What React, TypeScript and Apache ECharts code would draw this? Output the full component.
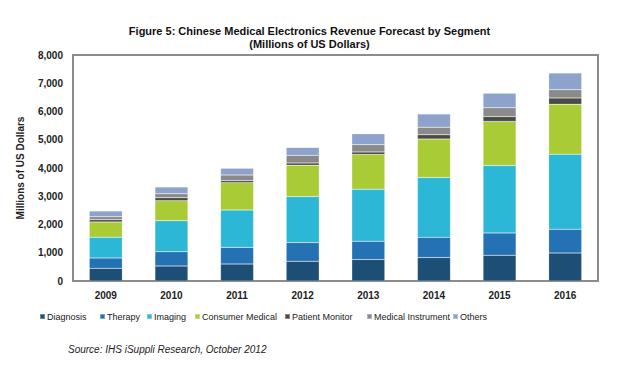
import React, { useEffect, useRef } from "react";
import * as echarts from "echarts";

const years = ["2009", "2010", "2011", "2012", "2013", "2014", "2015", "2016"];
const diagnosis = [450, 530, 600, 700, 760, 830, 910, 990];
const therapy = [365, 505, 590, 660, 650, 715, 790, 840];
const imaging = [735, 1100, 1320, 1630, 1840, 2120, 2390, 2660];
const consumerMedical = [540, 705, 970, 1110, 1230, 1360, 1560, 1770];
const patientMonitor = [80, 110, 70, 80, 90, 150, 170, 220];
const medicalInstrument = [105, 140, 200, 270, 260, 270, 310, 290];
const others = [205, 240, 240, 280, 380, 470, 520, 590];
const yTicks = [0, 1000, 2000, 3000, 4000, 5000, 6000, 7000, 8000];

const seriesDefs = [
  { name: "Diagnosis", data: diagnosis, color: "#1D4E75" },
  { name: "Therapy", data: therapy, color: "#2471B3" },
  { name: "Imaging", data: imaging, color: "#2DB7D6" },
  { name: "Consumer Medical", data: consumerMedical, color: "#A9CB35" },
  { name: "Patient Monitor", data: patientMonitor, color: "#4B4B45" },
  { name: "Medical Instrument", data: medicalInstrument, color: "#8A8A8A" },
  { name: "Others", data: others, color: "#8DA3CB" },
];
const legendLefts = [39, 99, 146, 194, 284, 366, 452];

export default function App() {
  const ref = useRef<HTMLDivElement>(null);
  useEffect(() => {
    if (!ref.current) return;
    const chart = echarts.init(ref.current, null, { renderer: "svg" });
    const font = "Liberation Sans, Arial, sans-serif";
    chart.setOption({
      animation: false,
      backgroundColor: "#ffffff",
      graphic: [
        {
          type: "text",
          left: "center",
          top: 24,
          style: {
            text: "Figure 5: Chinese Medical Electronics Revenue Forecast by Segment\n(Millions of US Dollars)",
            textAlign: "center",
            font: `bold 11px ${font}`,
            lineHeight: 13,
            fill: "#111",
          },
        },
        {
          type: "text",
          left: 68,
          top: 344,
          style: {
            text: "Source: IHS iSuppli Research, October 2012",
            font: `italic 10px ${font}`,
            fill: "#222",
          },
        },
      ],
      legend: seriesDefs.map((s, i) => ({
        data: [s.name],
        left: legendLefts[i],
        top: 312,
        icon: "rect",
        itemWidth: 5,
        itemHeight: 5,
        padding: 0,
        textStyle: { fontFamily: font, fontSize: 9, color: "#222", padding: [0, 0, 0, -3] },
      })),
      grid: {
        left: 73,
        right: 21,
        top: 55,
        bottom: 90,
        show: true,
        borderColor: "#8c8c8c",
        borderWidth: 2,
        backgroundColor: "transparent",
      },
      xAxis: {
        type: "category",
        data: years,
        axisLine: { lineStyle: { color: "#8c8c8c", width: 2 } },
        axisTick: { show: false },
        axisLabel: { fontFamily: font, fontWeight: "bold", fontSize: 10, color: "#222", margin: 9 },
      },
      yAxis: {
        type: "value",
        min: yTicks[0],
        max: yTicks[yTicks.length - 1],
        interval: 1000,
        name: "Millions of US Dollars",
        nameLocation: "middle",
        nameRotate: 90,
        nameGap: 48,
        nameTextStyle: { fontFamily: font, fontWeight: "bold", fontSize: 10, color: "#222" },
        splitLine: { show: false },
        axisLine: { show: false },
        axisTick: { show: false },
        axisLabel: {
          fontFamily: font,
          fontWeight: "bold",
          fontSize: 10,
          color: "#222",
          margin: 10,
          formatter: (v: number) => v.toLocaleString("en-US"),
        },
      },
      series: seriesDefs.map((s) => ({
        name: s.name,
        type: "bar",
        stack: "total",
        barWidth: 33,
        data: s.data,
        itemStyle: { color: s.color, borderColor: "rgba(255,255,255,0.35)", borderWidth: 0.5 },
      })),
    });
    return () => chart.dispose();
  }, []);
  return (
    <div
      ref={ref}
      style={{ position: "fixed", left: 0, top: 0, width: 619, height: 371, background: "#fff" }}
    />
  );
}
